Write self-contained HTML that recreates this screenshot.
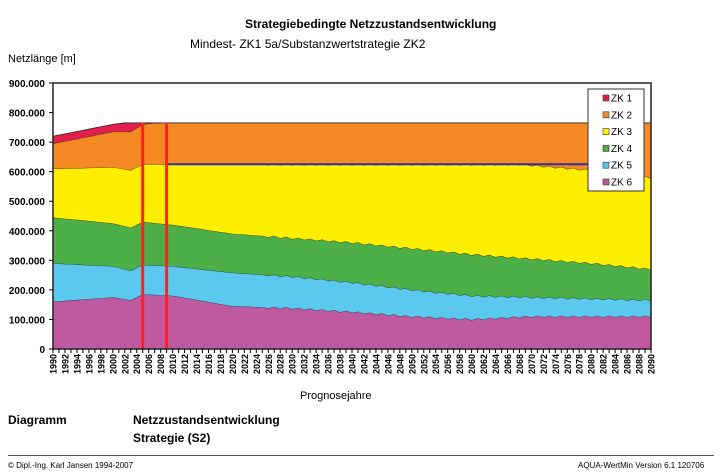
<!DOCTYPE html>
<html><head><meta charset="utf-8"><style>
body{margin:0;background:#fff;font-family:"Liberation Sans",sans-serif;}
#c{position:relative;width:720px;height:476px;overflow:hidden;}
.t{position:absolute;white-space:nowrap;}
</style></head><body><div id="c">
<div class="t" style="left:245px;top:17px;font-size:12px;font-weight:bold;">Strategiebedingte Netzzustandsentwicklung</div>
<div class="t" style="left:190px;top:37px;font-size:12px;">Mindest- ZK1 5a/Substanzwertstrategie ZK2</div>
<div class="t" style="left:8px;top:53px;font-size:11px;">Netzlänge [m]</div>
<svg id="s" width="720" height="476" style="position:absolute;left:0;top:0"></svg>
<div class="t" style="left:300px;top:390px;font-size:11px;">Prognosejahre</div>
<div class="t" style="left:8px;top:413px;font-size:12px;font-weight:bold;">Diagramm</div>
<div class="t" style="left:133px;top:413px;font-size:12px;font-weight:bold;">Netzzustandsentwicklung</div>
<div class="t" style="left:133px;top:431px;font-size:12px;font-weight:bold;">Strategie (S2)</div>
<div style="position:absolute;left:8px;top:455px;width:706px;height:1px;background:#555"></div>
<div class="t" style="left:8px;top:461px;font-size:8px;">© Dipl.-Ing. Karl Jansen 1994-2007</div>
<div class="t" style="left:578px;top:461px;font-size:8px;">AQUA-WertMin Version 6.1 120706</div>
</div>
<script>
(function(){
var L=53,R=651,T=83,B=349;
function X(y){return L+(y-1990)*(R-L)/100;}
function Y(v){return B-v/900000*(B-T);}
function interp(pts,yr){for(var i=0;i<pts.length-1;i++){if(yr>=pts[i][0]&&yr<=pts[i+1][0]){var a=pts[i],b=pts[i+1];return a[1]+(b[1]-a[1])*(yr-a[0])/(b[0]-a[0]);}}return pts[pts.length-1][1];}
var S=[
[[1990,160],[2000,175],[2003,165],[2005,185],[2010,180],[2020,145],[2030,138],[2040,125],[2050,110],[2060,100],[2070,110],[2090,110]],
[[1990,290],[2000,280],[2003,265],[2005,285],[2010,280],[2020,258],[2030,245],[2040,225],[2050,200],[2060,180],[2070,175],[2090,165]],
[[1990,445],[2000,425],[2003,410],[2005,430],[2010,420],[2020,390],[2030,375],[2040,360],[2050,340],[2060,320],[2070,305],[2080,290],[2090,270]],
[[1990,610],[2000,615],[2003,605],[2005,625],[2068,625],[2080,605],[2090,580]],
[[1990,695],[2000,735],[2003,735],[2005,760],[2007,765],[2090,765]],
[[1990,720],[1995,740],[2000,760],[2002,765],[2090,765]]];
var cols=["#c05aa0","#5bc8f0","#4caf48","#ffee00","#f58a25","#e0204a"];
var h='';
var prev=null;
function f(p){return p[0].toFixed(1)+','+p[1].toFixed(1);}
for(var k=0;k<6;k++){var tp=[];for(var yr=1990;yr<=2090;yr++){var w=(yr>2025&&k<4)?((yr%2)?3:-3):0;tp.push([X(yr),Y((interp(S[k],yr)*1000)+w*1000)]);}
var d='M'+tp.map(f).join('L');
var bot=prev?prev.slice().reverse():[[R,B],[L,B]];
h+='<path d="'+d+'L'+bot.map(f).join('L')+'Z" fill="'+cols[k]+'"/>';
h+='<path d="'+d+'" fill="none" stroke="#222" stroke-width="0.7"/>';
prev=tp;}
h+='<line x1="'+X(2009)+'" y1="'+Y(625000)+'" x2="588" y2="'+Y(625000)+'" stroke="#3030a0" stroke-width="2"/>';
h+='<line x1="'+X(2005)+'" y1="'+Y(765000)+'" x2="'+X(2005)+'" y2="'+B+'" stroke="#ff2020" stroke-width="3"/>';
h+='<line x1="'+X(2009)+'" y1="'+Y(765000)+'" x2="'+X(2009)+'" y2="'+B+'" stroke="#ff2020" stroke-width="3"/>';
h+='<rect x="'+L+'" y="'+T+'" width="'+(R-L)+'" height="'+(B-T)+'" fill="none" stroke="#222" stroke-width="1.5"/>';
for(var i=0;i<=9;i++){var y=Y(i*100000);h+='<line x1="'+(L-4)+'" y1="'+y+'" x2="'+L+'" y2="'+y+'" stroke="#000"/>';
var lab=i==0?'0':(i*100)+'.000';h+='<text x="'+(L-8)+'" y="'+(y+4)+'" font-size="10" font-weight="bold" text-anchor="end" font-family="Liberation Sans">'+lab+'</text>';}
for(var yr2=1990;yr2<=2090;yr2++){var x=X(yr2);h+='<line x1="'+x+'" y1="'+B+'" x2="'+x+'" y2="'+(B+4)+'" stroke="#000"/>';
if(yr2%2==0)h+='<text transform="translate('+(x+3.5)+',354) rotate(-90)" font-size="9" font-weight="bold" text-anchor="end" font-family="Liberation Sans">'+yr2+'</text>';}
h+='<rect x="588" y="89" width="56" height="102" fill="#fff" stroke="#333"/>';
var names=["ZK 1","ZK 2","ZK 3","ZK 4","ZK 5","ZK 6"];var lc=["#e0204a","#f58a25","#ffee00","#4caf48","#5bc8f0","#c05aa0"];
for(var j=0;j<6;j++){var yy=97+j*16.8;h+='<rect x="603" y="'+(yy-2)+'" width="6" height="6" fill="'+lc[j]+'" stroke="#333" stroke-width="0.6"/>';
h+='<text x="611" y="'+(yy+4.5)+'" font-size="10" font-family="Liberation Sans">'+names[j]+'</text>';}
document.getElementById('s').innerHTML=h;
})();
</script>
</body></html>
